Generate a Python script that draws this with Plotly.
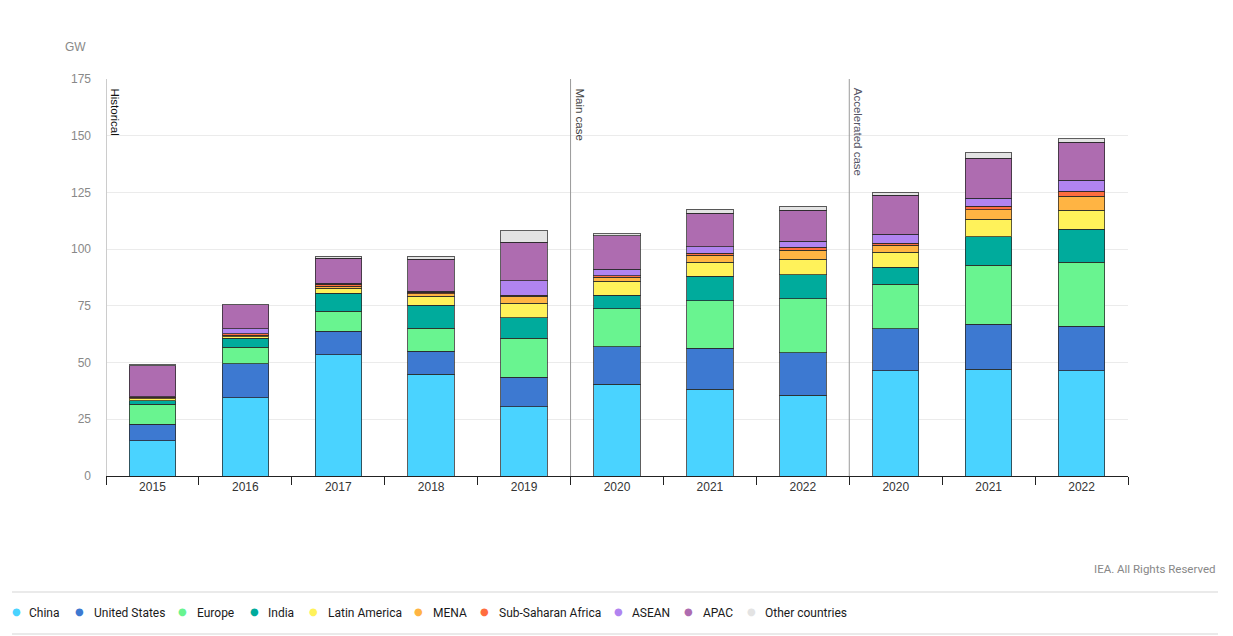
import plotly.graph_objects as go

# slots: 2015-2019 historical, then main case and accelerated case
years = ["2015", "2016", "2017", "2018", "2019",
         "2020", "2021", "2022", "2020", "2021", "2022"]

china = [15.6, 34.5, 53.5, 44.8, 30.6, 40.4, 38.3, 35.6, 46.4, 47.0, 46.4]
united_states = [7.3, 15.0, 10.3, 10.2, 12.9, 16.6, 18.0, 18.8, 18.5, 19.8, 19.7]
europe = [8.8, 7.2, 8.8, 10.1, 17.2, 16.7, 21.0, 23.8, 19.6, 26.0, 28.2]
india = [1.5, 4.0, 7.9, 10.1, 9.1, 5.9, 10.7, 10.5, 7.6, 12.7, 14.4]
latin_america = [0.9, 0.7, 2.2, 4.0, 6.3, 6.3, 6.3, 6.8, 6.5, 7.6, 8.4]
mena = [0.4, 0.7, 1.0, 1.1, 3.2, 1.7, 3.0, 4.1, 3.2, 4.3, 6.2]
ssa = [0.3, 0.6, 0.8, 0.6, 0.3, 0.7, 0.8, 1.3, 0.7, 1.4, 2.3]
asean = [0.2, 2.2, 0.5, 0.5, 6.5, 2.8, 3.0, 2.5, 4.0, 3.6, 4.7]
apac = [13.5, 10.5, 10.9, 14.1, 16.9, 14.8, 14.8, 13.8, 17.2, 17.6, 16.8]
other = [0.5, 0.3, 0.9, 1.3, 5.0, 0.9, 1.6, 1.8, 1.2, 2.4, 1.6]

y_ticks = [0, 25, 50, 75, 100, 125, 150, 175]

series = [
    ("China", china, "#4ad3ff"),
    ("United States", united_states, "#3d79d1"),
    ("Europe", europe, "#69f490"),
    ("India", india, "#00ab9c"),
    ("Latin America", latin_america, "#fff25a"),
    ("MENA", mena, "#ffb443"),
    ("Sub-Saharan Africa", ssa, "#ff6d3e"),
    ("ASEAN", asean, "#b184f0"),
    ("APAC", apac, "#ae6cb0"),
    ("Other countries", other, "#e3e3e3"),
]

# legend layout (reference pixels): marker centre, text start
legend_x = [(16, 27), (79, 92), (182, 195), (254, 266), (313, 326),
            (418, 431), (484, 497), (618, 630), (688, 701), (751, 763)]

pos = list(range(len(years)))

fig = go.Figure()

for name, vals, col in series:
    fig.add_trace(go.Bar(
        x=pos, y=vals, name=name, showlegend=False,
        marker=dict(color=col, line=dict(color="rgba(40,40,40,0.75)", width=1)),
    ))

# page body adds 8px around the figure, so the figure is 8px smaller
W, H = 1225, 628
L, R, T, B = 98, 105, 71, 160
PW, PH = W - L - R, H - T - B  # 1022 x 397


def px(xr):
    # reference pixel x -> paper x
    return (xr - 8 - L) / PW


def py(yr):
    # reference pixel y -> paper y
    return (H - B - (yr - 8)) / PH


fig.update_layout(
    barmode="stack",
    bargap=0.5,
    width=W, height=H,
    showlegend=False,
    margin=dict(l=L, r=R, t=T, b=B, autoexpand=False),
    plot_bgcolor="white", paper_bgcolor="white",
    font=dict(family="Liberation Sans, Arial, sans-serif", size=12, color="#333"),
    xaxis=dict(
        range=[-0.5, 10.5],
        tickvals=pos, ticktext=years,
        ticks="", showgrid=False, zeroline=False,
        showline=True, linecolor="#222", linewidth=1,
        tickfont=dict(color="#333", size=12),
        minor=dict(tickvals=[p - 0.5 for p in pos] + [10.5], ticks="outside",
                   ticklen=8, tickcolor="#222", tickwidth=1, showgrid=False),
    ),
    yaxis=dict(
        range=[0, 175], tickvals=y_ticks,
        showgrid=True, gridcolor="#ebebeb", gridwidth=1,
        zeroline=False, showline=False, ticks="",
        tickfont=dict(color="#888", size=12),
        ticklabelstandoff=14,
    ),
)

# left edge and section separators
fig.add_shape(type="line", xref="x", yref="paper", x0=-0.5, x1=-0.5, y0=0, y1=1,
              line=dict(color="#cccccc", width=2))
for xs in [4.5, 7.5]:
    fig.add_shape(type="line", xref="x", yref="paper", x0=xs, x1=xs, y0=0, y1=1,
                  line=dict(color="#9a9a9a", width=1))

for xs, txt, col in [(-0.5, "Historical", "#111"), (4.5, "Main case", "#444"),
                     (7.5, "Accelerated case", "#556")]:
    fig.add_annotation(x=xs, y=1, xref="x", yref="paper", text=txt, showarrow=False,
                       textangle=90, xanchor="left", yanchor="top", xshift=1, yshift=-7,
                       font=dict(size=11.5, color=col))

fig.add_annotation(x=px(75), y=py(47), xref="paper", yref="paper", text="GW",
                   showarrow=False, xanchor="center", yanchor="middle",
                   font=dict(size=12, color="#888"))

fig.add_annotation(x=px(1218), y=py(569), xref="paper", yref="paper",
                   text="IEA. All Rights Reserved", showarrow=False,
                   xanchor="right", yanchor="middle",
                   font=dict(family="Roboto, sans-serif", size=11.5, color="#888"))

# legend drawn as text: coloured dot + label
for (name, _, col), (mx, tx) in zip(series, legend_x):
    fig.add_annotation(x=px(mx), y=py(611), xref="paper", yref="paper", text="●",
                       showarrow=False, xanchor="center", yanchor="middle",
                       font=dict(family="DejaVu Sans", size=10, color=col))
    fig.add_annotation(x=px(tx), y=py(613), xref="paper", yref="paper", text=name,
                       showarrow=False, xanchor="left", yanchor="middle",
                       font=dict(family="Roboto, sans-serif", size=12, color="#1a1a1a"))

# separator lines around legend
for yp in [592, 634]:
    fig.add_shape(type="line", xref="paper", yref="paper",
                  x0=px(12), x1=px(1218), y0=py(yp), y1=py(yp),
                  line=dict(color="#e3e3e3", width=1.5))

fig.write_html("out.html")
